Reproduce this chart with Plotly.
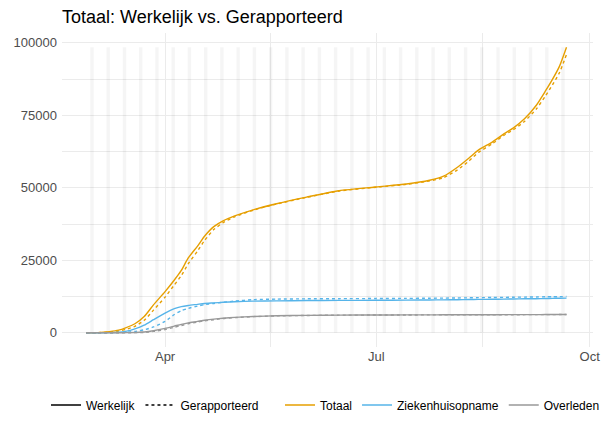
import plotly.graph_objects as go
import pandas as pd

# ---------------- data ----------------
dates = ["2020-02-27", "2020-03-03", "2020-03-08", "2020-03-12", "2020-03-15", "2020-03-19",
         "2020-03-23", "2020-03-27", "2020-04-01", "2020-04-05", "2020-04-08", "2020-04-11",
         "2020-04-15", "2020-04-18", "2020-04-22", "2020-04-26", "2020-05-01", "2020-05-09",
         "2020-05-19", "2020-06-01", "2020-06-15", "2020-07-01", "2020-07-14", "2020-07-24",
         "2020-07-30", "2020-08-05", "2020-08-10", "2020-08-14", "2020-08-20", "2020-08-25",
         "2020-08-29", "2020-09-03", "2020-09-08", "2020-09-12", "2020-09-15", "2020-09-18",
         "2020-09-21"]

totaal_werkelijk = [0, 50, 400, 900, 1700, 3100, 5600, 9600, 14200, 18200, 21500, 25800,
                    29900, 33300, 36600, 38600, 40300, 42400, 44500, 46800, 49000, 50300,
                    51300, 52600, 54000, 57100, 60300, 63000, 65800, 68600, 70600, 73900,
                    78500, 83500, 87500, 92000, 98500]
totaal_gerapporteerd = [0, 20, 200, 600, 1100, 2200, 4300, 7800, 12300, 16500, 19700, 23800,
                        28200, 31800, 35600, 38000, 40000, 42300, 44400, 46700, 48900, 50200,
                        51200, 52400, 53500, 56200, 59300, 62200, 65200, 68100, 70000, 73000,
                        77200, 81800, 85600, 89800, 96000]
zkh_werkelijk = [0, 0, 30, 150, 450, 1300, 2600, 4500, 6800, 8300, 9000, 9400,
                 9800, 10100, 10300, 10500, 10700, 10900, 11000, 11100, 11150, 11200,
                 11250, 11300, 11350, 11400, 11450, 11500, 11550, 11600, 11650, 11700,
                 11750, 11800, 11850, 11900, 11950]
zkh_gerapporteerd = [0, 0, 0, 50, 150, 450, 1000, 2000, 3900, 6300, 7600, 8400,
                     9200, 9700, 10100, 10500, 10900, 11400, 11600, 11700, 11750, 11800,
                     11850, 11900, 11950, 12000, 12050, 12100, 12150, 12200, 12250, 12300,
                     12350, 12400, 12420, 12450, 12500]
overleden_werkelijk = [0, 0, 0, 5, 20, 60, 250, 700, 1500, 2300, 2900, 3400,
                       3900, 4300, 4700, 5000, 5300, 5600, 5850, 6000, 6080, 6120,
                       6150, 6170, 6180, 6190, 6200, 6210, 6220, 6230, 6240, 6250,
                       6260, 6270, 6280, 6290, 6300]
overleden_gerapporteerd = [0, 0, 0, 0, 5, 20, 120, 450, 1100, 1900, 2500, 3100,
                           3700, 4100, 4500, 4900, 5200, 5550, 5800, 5950, 6060, 6100,
                           6130, 6150, 6160, 6170, 6180, 6190, 6200, 6210, 6220, 6230,
                           6240, 6250, 6260, 6270, 6280]

# weekends (Saturdays) shaded in the background
weekends = pd.date_range("2020-02-29", "2020-09-19", freq="7D")

series_names = ["Totaal", "Ziekenhuisopname", "Overleden"]
linetype_names = ["Werkelijk", "Gerapporteerd"]
y_ticks = [0, 25000, 50000, 75000, 100000]
x_ticks = ["2020-04-01", "2020-07-01", "2020-10-01"]
x_ticklabels = ["Apr", "Jul", "Oct"]

# ---------------- styles ----------------
colors = {"Totaal": "#E69F00", "Ziekenhuisopname": "#56B4E9", "Overleden": "#999999"}
dashes = {"Werkelijk": "solid", "Gerapporteerd": "3px,3px"}
FONT = "Liberation Sans, Arial, sans-serif"
LW = 1.4

data = {
    ("Totaal", "Werkelijk"): totaal_werkelijk,
    ("Totaal", "Gerapporteerd"): totaal_gerapporteerd,
    ("Ziekenhuisopname", "Werkelijk"): zkh_werkelijk,
    ("Ziekenhuisopname", "Gerapporteerd"): zkh_gerapporteerd,
    ("Overleden", "Werkelijk"): overleden_werkelijk,
    ("Overleden", "Gerapporteerd"): overleden_gerapporteerd,
}

fig = go.Figure()

# weekend bands
day_ms = 86400000
fig.add_trace(go.Bar(
    x=weekends + pd.Timedelta(hours=12),
    y=[max(totaal_werkelijk)] * len(weekends),
    width=1.5 * day_ms,
    marker=dict(color="rgba(0,0,0,0.04)", line=dict(width=0)),
    showlegend=False, hoverinfo="skip",
))

for s in series_names:
    for lt in linetype_names:
        fig.add_trace(go.Scatter(
            x=dates, y=data[(s, lt)], mode="lines",
            line=dict(color=colors[s], width=LW, dash=dashes[lt], shape="spline", smoothing=0.6),
            showlegend=False, name=f"{s} {lt}",
        ))

# legend entries: linetype
for lt in linetype_names:
    fig.add_trace(go.Scatter(
        x=[None], y=[None], mode="lines", name=lt,
        line=dict(color="black", width=LW, dash=dashes[lt]),
        legend="legend", showlegend=True,
    ))
# legend entries: colour
for s in series_names:
    fig.add_trace(go.Scatter(
        x=[None], y=[None], mode="lines", name=s,
        line=dict(color=colors[s], width=LW),
        legend="legend2", showlegend=True,
    ))

grid = "#EBEBEB"
fig.update_layout(
    width=603, height=421,
    margin=dict(l=62, r=10, t=33, b=74, autoexpand=False),
    paper_bgcolor="white", plot_bgcolor="white",
    font=dict(family=FONT, size=13, color="#4D4D4D"),
    title=dict(text="Totaal: Werkelijk vs. Gerapporteerd", x=62 / 603, xanchor="left",
               y=1 - 17 / 421, yanchor="middle", yref="container",
               font=dict(family=FONT, size=18, color="black")),
    barmode="overlay",
    xaxis=dict(
        type="date",
        range=["2020-02-16 14:00", "2020-10-02 10:00"],
        tickmode="array", tickvals=x_ticks, ticktext=x_ticklabels,
        showgrid=True, gridcolor=grid, gridwidth=1,
        minor=dict(tickmode="array", tickvals=["2020-05-16 12:00", "2020-08-16"],
                   showgrid=True, gridcolor=grid, gridwidth=0.5),
        showline=False, zeroline=False, ticks="",
        tickfont=dict(family=FONT, size=13, color="#4D4D4D"),
    ),
    yaxis=dict(
        range=[-4925, 103425],
        tickmode="array", tickvals=y_ticks, tickformat="d",
        showgrid=True, gridcolor=grid, gridwidth=1,
        minor=dict(tickmode="array", tickvals=[12500, 37500, 62500, 87500],
                   showgrid=True, gridcolor=grid, gridwidth=0.5),
        showline=False, zeroline=False, ticks="",
        ticklabelstandoff=4,
        tickfont=dict(family=FONT, size=13, color="#4D4D4D"),
    ),
    legend=dict(orientation="h", x=(46 - 62) / 531, xanchor="left",
                y=(347 - 405) / 314, yanchor="middle",
                bgcolor="rgba(0,0,0,0)", font=dict(family=FONT, size=12, color="black"),
                itemwidth=30),
    legend2=dict(orientation="h", x=(280 - 62) / 531, xanchor="left",
                 y=(347 - 405) / 314, yanchor="middle",
                 bgcolor="rgba(0,0,0,0)", font=dict(family=FONT, size=12, color="black"),
                 itemwidth=30),
)

fig.write_html("out.html", config={"displayModeBar": False},
               post_script="document.body.style.margin='0';")
